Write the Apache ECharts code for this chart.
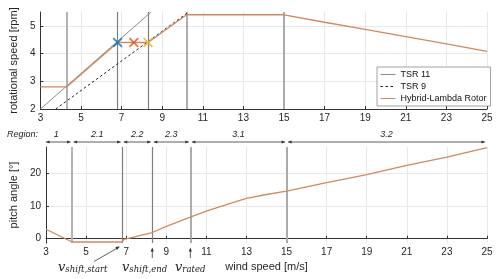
<!DOCTYPE html>
<html><head><meta charset="utf-8">
<script src="https://cdn.jsdelivr.net/npm/echarts@6/dist/echarts.min.js"></script>
<style>html,body{margin:0;padding:0;background:#fff}#c{width:500px;height:279px}</style>
</head><body><div id="c"></div>
<script>
// ---- data ----
const windTicks = [3,5,7,9,11,13,15,17,19,21,23,25];
const speedTicks = [2,3,4,5];
const pitchTicks = [0,10,20];

const hybridWind  = [3, 4.3, 6.8, 8.3, 10.2, 15, 17, 19, 21, 23, 25];
const hybridSpeed = [2.8, 2.8, 4.4, 4.4, 5.4, 5.4, 5.13, 4.87, 4.61, 4.35, 4.08];

const tsr11Wind  = [3, 8.45];
const tsr11Speed = [2.0, 5.5];
const tsr9Wind   = [3.75, 10.3];
const tsr9Speed  = [2.0, 5.5];

const markerWind  = [6.8, 7.6, 8.3];
const markerSpeed = [4.4, 4.4, 4.4];
const markerColors = ['#0072BD', '#D95319', '#EDB120'];

const pitchWind  = [3, 4.3, 6.75, 6.9, 8.3, 9, 10.2, 11, 12, 13, 14, 15, 17, 19, 21, 23, 25];
const pitchAngle = [2.9, -1, -1, -0.2, 1.9, 3.8, 6.6, 8.4, 10.4, 12.3, 13.5, 14.5, 17.1, 19.6, 22.4, 24.9, 27.8];

const regionBounds = [3, 4.3, 6.8, 8.3, 10.2, 15, 25];
const regionNames  = ['1', '2.1', '2.2', '2.3', '3.1', '3.2'];
const boundaryWind = [4.3, 6.8, 8.3, 10.2, 15];

// ---- chart ----
const zip = (a, b) => a.map((v, i) => [v, b[i]]);
const FONT = '"Liberation Sans", Arial, sans-serif';
const txt = '#262626';
const boundaryStyles = [
  {color:'#b3b3b3', width:2, type:'solid'}, {color:'#7f7f7f', width:1.2, type:'solid'}, {color:'#7f7f7f', width:1.2, type:'solid'},
  {color:'#999999', width:1.6, type:'solid'}, {color:'#ababab', width:2, type:'solid'}
];
const markLineData = boundaryWind.map((w, i) => ({xAxis: w, lineStyle: boundaryStyles[i]}));
const ORANGE = '#d08a5f';
const XSYM = 'path://M0,1.2 L1.2,0 L5,3.8 L8.8,0 L10,1.2 L6.2,5 L10,8.8 L8.8,10 L5,6.2 L1.2,10 L0,8.8 L3.8,5 Z';

function xAxisCfg(gi, withName) {
  return {
    gridIndex: gi, type: 'value', min: 3, max: 25,
    axisLine: {show: true, lineStyle: {color: '#333', width: 1}},
    axisTick: {show: true, inside: true, length: 3, customValues: windTicks, lineStyle:{color:'#333'}},
    axisLabel: {customValues: windTicks, fontSize: 10, color: txt, fontFamily: FONT, margin: 4},
    splitLine: {show: true, lineStyle: {color: '#e8e8e8', width: 1}},
    name: withName ? 'wind speed [m/s]' : '', nameLocation: 'middle', nameGap: 18,
    nameTextStyle: {fontSize: 11, color: txt, fontFamily: FONT}
  };
}
function yAxisCfg(gi, min, max, ticks, name) {
  return {
    gridIndex: gi, type: 'value', min: min, max: max,
    axisLine: {show: true, lineStyle: {color: '#333', width: 1}},
    axisTick: {show: true, inside: true, length: 3, customValues: ticks, lineStyle:{color:'#333'}},
    axisLabel: {customValues: ticks, fontSize: 10, color: txt, fontFamily: FONT, margin: 5},
    splitLine: {show: true, lineStyle: {color: '#e8e8e8', width: 1}},
    name: name, nameLocation: 'middle', nameGap: 18,
    nameTextStyle: {fontSize: 11, color: txt, fontFamily: FONT}
  };
}

const chart = echarts.init(document.getElementById('c'), null, {renderer: 'canvas'});
chart.setOption({
  animation: false,
  backgroundColor: '#fff',
  grid: [
    {left: 36, right: 13, top: 12, height: 97},
    {left: 36, right: 13, top: 147, height: 96}
  ],
  xAxis: [xAxisCfg(0, false), xAxisCfg(1, true)],
  yAxis: [
    yAxisCfg(0, 2, 5.5, speedTicks, 'rotational speed [rpm]'),
    yAxisCfg(1, -1.3, 28, pitchTicks, 'pitch angle [°]')
  ],
  legend: {
    data: ['TSR 11', 'TSR 9', 'Hybrid-Lambda Rotor'],
    orient: 'vertical', left: 377, top: 67,
    itemWidth: 15, itemHeight: 9, itemGap: 3, itemTextGap: 2,
    padding: [3, 4, 3, 3],
    borderColor: '#8a8a8a', borderWidth: 0.8, backgroundColor: '#fff',
    itemStyle: {opacity: 0, color: 'rgba(0,0,0,0)', borderWidth: 0},
    lineStyle: {width: 1},
    textStyle: {fontSize: 9, color: '#111', fontFamily: FONT, lineHeight: 9}
  },
  series: [
    {name: 'TSR 11', type: 'line', xAxisIndex: 0, yAxisIndex: 0, data: zip(tsr11Wind, tsr11Speed),
     symbol: 'none', lineStyle: {color: '#8c8c8c', width: 1}, itemStyle: {color: '#8c8c8c'}, z: 3},
    {name: 'TSR 9', type: 'line', xAxisIndex: 0, yAxisIndex: 0, data: zip(tsr9Wind, tsr9Speed),
     symbol: 'none', lineStyle: {color: '#222', width: 1, type: [2.5, 2.5]}, itemStyle: {color: '#222'}, z: 3},
    {name: 'Hybrid-Lambda Rotor', type: 'line', xAxisIndex: 0, yAxisIndex: 0, data: zip(hybridWind, hybridSpeed),
     symbol: 'none', lineStyle: {color: ORANGE, width: 1.3}, itemStyle: {color: ORANGE}, z: 4,
     markLine: {silent: true, symbol: 'none', label: {show: false}, data: markLineData, z: 2}},
    {name: 'markers', type: 'scatter', xAxisIndex: 0, yAxisIndex: 0,
     data: markerWind.map((w, i) => ({value: [w, markerSpeed[i]], itemStyle: {color: markerColors[i]}})),
     symbol: XSYM, symbolSize: 10, z: 6},
    {name: 'pitch', type: 'line', xAxisIndex: 1, yAxisIndex: 1, data: zip(pitchWind, pitchAngle),
     symbol: 'none', lineStyle: {color: ORANGE, width: 1.3}, z: 4,
     markLine: {silent: true, symbol: 'none', label: {show: false}, data: markLineData, z: 2}}
  ]
});

// ---- annotations placed through the axes' scales ----
function px(w) { return chart.convertToPixel({gridIndex: 1}, [w, 0])[0]; }
function head(x, y, ang, len, hw, color) {
  const c = Math.cos(ang), s = Math.sin(ang);
  const bx = x - c * len, by = y - s * len;
  return {type: 'polygon', silent: true, z: 20,
    shape: {points: [[x, y], [bx - s * hw, by + c * hw], [bx + s * hw, by - c * hw]]},
    style: {fill: color}};
}
const g = [];
const ARROW_Y = 142, AC = '#333';
for (let i = 0; i < regionNames.length; i++) {
  const x1 = px(regionBounds[i]) + (i === 0 ? 0 : 1.5);
  const x2 = px(regionBounds[i + 1]) - (i === regionNames.length - 1 ? 2 : 1.5);
  g.push({type: 'line', silent: true, z: 20, shape: {x1: x1, y1: ARROW_Y, x2: x2, y2: ARROW_Y},
          style: {stroke: AC, lineWidth: 0.8}});
  g.push(head(x1, ARROW_Y, Math.PI, 3.5, 1.6, AC));
  g.push(head(x2, ARROW_Y, 0, 3.5, 1.6, AC));
  g.push({type: 'text', silent: true, z: 20, x: (x1 + x2) / 2 - (i === 0 ? 2 : 0), y: 134,
          style: {text: regionNames[i], fontSize: 9, fontStyle: 'italic', fill: '#222',
                  fontFamily: FONT, align: 'center', verticalAlign: 'middle'}});
}
g.push({type: 'text', silent: true, z: 20, x: 7, y: 134,
        style: {text: 'Region:', fontSize: 9, fontStyle: 'italic', fill: '#222', fontFamily: FONT,
                align: 'left', verticalAlign: 'middle'}});

// v labels
const vRich = {
  v: {fontFamily: '"DejaVu Serif", "Liberation Serif", serif', fontStyle: 'italic', fontSize: 13, fill: '#222', verticalAlign: 'bottom'},
  s: {fontFamily: '"DejaVu Serif", "Liberation Serif", serif', fontStyle: 'italic', fontSize: 8.5, fill: '#222', padding: [6, 0, 0, 0], verticalAlign: 'bottom'}
};
function vlabel(x, sub) {
  g.push({type: 'text', silent: true, z: 20, x: x, y: 274,
          style: {rich: vRich, text: '{v|v}{s|' + sub + '}', align: 'left', verticalAlign: 'bottom'}});
}
vlabel(58, 'shift,start');
vlabel(122, 'shift,end');
vlabel(175, 'rated');
// arrows to boundaries
const xs = px(6.8), xe = px(8.3), xr = px(10.2);
g.push({type: 'line', silent: true, z: 20, shape: {x1: 94, y1: 261.5, x2: xs - 3, y2: 247},
        style: {stroke: AC, lineWidth: 0.8}});
g.push(head(xs - 2.5, 246.5, Math.atan2(247 - 261.5, xs - 3 - 94), 4, 1.7, AC));
[xe, xr].forEach(x => {
  g.push({type: 'line', silent: true, z: 20, shape: {x1: x, y1: 258, x2: x, y2: 250},
          style: {stroke: AC, lineWidth: 0.8}});
  g.push(head(x, 247.5, -Math.PI / 2, 4, 1.6, AC));
});
chart.setOption({graphic: g});
</script></body></html>
